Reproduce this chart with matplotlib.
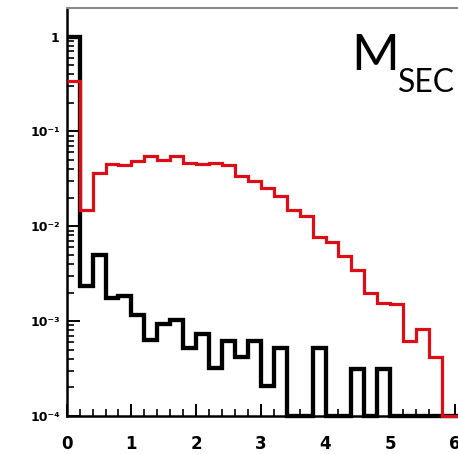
import numpy as np
import matplotlib
matplotlib.use("Agg")
import matplotlib.pyplot as plt
from matplotlib.ticker import MultipleLocator, LogLocator, NullFormatter

# histogram binning (0.2 wide bins)
edges = np.round(np.arange(0, 6.21, 0.2), 2)

# fraction per bin, zero = empty bin
red_vals = [0.337, 0.0147, 0.0364, 0.0457, 0.0438, 0.0483, 0.0546, 0.0503,
            0.0546, 0.0465, 0.0455, 0.0465, 0.0440, 0.0341, 0.0297, 0.0253,
            0.0206, 0.0147, 0.0129, 0.0077, 0.0069, 0.0049, 0.0035, 0.00197,
            0.00156, 0.00152, 0.00062, 0.00083, 0.00042, 0, 0]
black_vals = [0.98, 0.00232, 0.00492, 0.00177, 0.00186, 0.00115, 0.000634,
              0.000927, 0.00103, 0.000518, 0.000728, 0.000319, 0.000624,
              0.000423, 0.000624, 0.000206, 0.000518, 0, 0, 0.000518, 0, 0,
              0.000313, 0, 0.000313, 0, 0, 0, 0, 0, 0]

yticks = [1e-4, 1e-3, 1e-2, 1e-1, 1]
ytick_labels = ['10\u207b\u2074', '10\u207b\u00b3', '10\u207b\u00b2',
                '10\u207b\u00b9', '1']
xticks = [0, 1, 2, 3, 4, 5, 6]

ymin, ymax = 1e-4, 2.0

fig = plt.figure(figsize=(4.58, 4.54), dpi=100)
ax = fig.add_axes([0.1456, 0.0837, 0.876, 0.8987])

# empty bins sit on the floor of the frame
black = np.where(np.array(black_vals) > 0, black_vals, ymin)
red = np.where(np.array(red_vals) > 0, red_vals, ymin)
ax.stairs(black, edges, baseline=None, color='black', lw=3.1, clip_on=False, zorder=3)
ax.stairs(red, edges, baseline=None, color='#dc0d16', lw=2.3, clip_on=False, zorder=4)

ax.set_yscale('log')
ax.set_xlim(0, 6.2)
ax.set_ylim(ymin, ymax)

ax.xaxis.set_major_locator(MultipleLocator(1))
ax.xaxis.set_minor_locator(MultipleLocator(0.2))
ax.set_xticks(xticks)
ax.set_xticklabels([str(t) for t in xticks], fontsize=12, fontweight='bold')

ax.set_yticks(yticks)
ax.set_yticklabels(ytick_labels, fontsize=9, fontweight='bold')
ax.yaxis.set_minor_locator(LogLocator(base=10, subs=np.arange(2, 10)))
ax.yaxis.set_minor_formatter(NullFormatter())

ax.tick_params(which='both', direction='in', top=False, right=False)
ax.tick_params(axis='x', which='major', length=9, width=1.4, pad=14)
ax.tick_params(axis='x', which='minor', length=5, width=1.2)
ax.tick_params(axis='y', which='major', length=9.5, width=1.4, pad=5)
ax.tick_params(axis='y', which='minor', length=5, width=1.2)

for side in ['left', 'bottom']:
    ax.spines[side].set_linewidth(1.8)
    ax.spines[side].set_color('black')
ax.spines['top'].set_color('#888888')
ax.spines['top'].set_linewidth(1.5)

fig.text(0.768, 0.846, 'M', fontsize=37, family='Lato', fontweight='normal',
         ha='left', va='baseline')
fig.text(0.869, 0.797, 'SEC', fontsize=23, family='Lato', fontweight='normal',
         ha='left', va='baseline')

fig.savefig('out.png', dpi=100)
